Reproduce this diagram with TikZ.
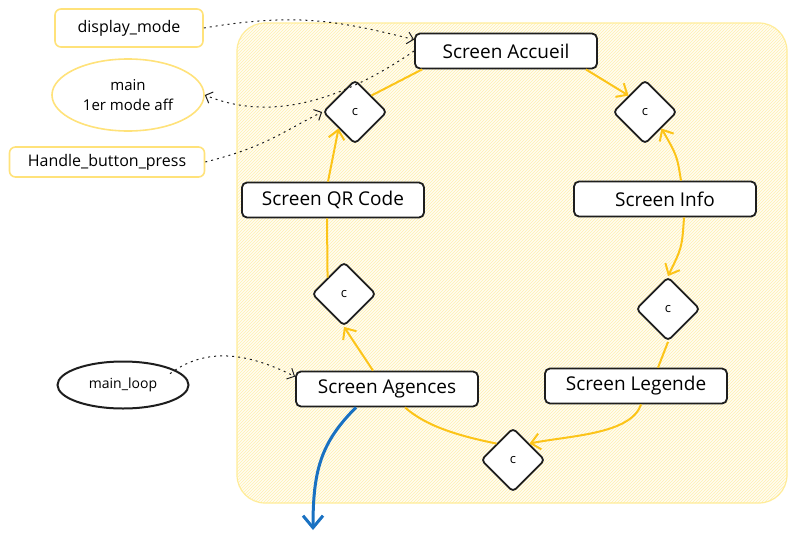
\documentclass[tikz,border=0pt]{standalone}
\usepackage{fontspec}
\setmainfont{Open Sans}
\usepackage{tikz}
\usetikzlibrary{arrows,arrows.meta,shapes.geometric,patterns}
\definecolor{ink}{HTML}{1E1E1E}
\definecolor{flowc}{HTML}{FCC419}
\definecolor{panelline}{HTML}{FFEC99}
\definecolor{panelfill}{HTML}{FFFDF2}
\definecolor{hatchc}{HTML}{FFF0B0}
\definecolor{labline}{HTML}{FFE27A}
\definecolor{outc}{HTML}{1971C2}

\begin{document}
\begin{tikzpicture}[x=1pt, y=-1pt,
    screen/.style={draw=ink, fill=white, line width=1.8pt, rounded corners=5pt,
      minimum width=182pt, minimum height=35pt, font=\fontsize{19}{21}\selectfont},
    cond/.style={diamond, draw=ink, fill=white, line width=1.8pt, rounded corners=4pt,
      minimum width=64pt, minimum height=64pt, inner sep=0pt, font=\fontsize{13}{15}\selectfont},
    func/.style={draw=labline, fill=white, line width=1.6pt, rounded corners=6pt,
      minimum height=34pt, font=\fontsize{16}{18}\selectfont},
    funcell/.style={ellipse, draw=labline, fill=white, line width=1.6pt, align=center,
      minimum width=152pt, minimum height=72pt, inner sep=0pt, font=\fontsize{15}{20}\selectfont},
    loopell/.style={ellipse, draw=ink, fill=white, line width=2pt,
      minimum width=131pt, minimum height=47pt, inner sep=0pt, font=\fontsize{14}{16}\selectfont},
    panel/.style={draw=panelline, line width=1.2pt, rounded corners=28pt,
      preaction={fill=panelfill}, pattern=north east lines, pattern color=hatchc},
    flow/.style={draw=flowc, line width=2pt, >={Straight Barb[length=9pt,width=16pt]}},
    dot/.style={draw=ink, line width=1pt, dash pattern=on 2pt off 4pt,
      >={Straight Barb[length=6pt,width=12pt]}},
    outarrow/.style={draw=outc, line width=3pt, >={Straight Barb[length=12pt,width=20pt]}}]
  \useasboundingbox (0,0) rectangle (797,538);
  \draw[panel] (237,23) rectangle (787,503);
  % screens
  \node[screen] (Acc) at (506,51) {Screen Accueil};
  \node[screen] (QR) at (333,200) {Screen QR Code};
  \node[screen] (Info) at (665,199) {Screen Info};
  \node[screen] (Ag) at (387,389) {Screen Agences};
  \node[screen] (Leg) at (636,386) {Screen Legende};
  % choices
  \node[cond] (CTL) at (355,112) {c};
  \node[cond] (CTR) at (645,112) {c};
  \node[cond] (CML) at (344,294) {c};
  \node[cond] (CMR) at (668,309) {c};
  \node[cond] (CB) at (513,460) {c};
  % functions
  \node[func, minimum width=148pt, minimum height=38pt] (DM) at (129,28) {display\_mode};
  \node[funcell] (MA) at (128,95) {main\\1er mode aff};
  \node[func, minimum width=195pt, minimum height=30pt] (HB) at (107,162) {Handle\_button\_press};
  \node[loopell] (ML) at (123,385) {main\_loop};
  \coordinate (out) at (313,530);
  % cycle
  \draw[flow, ->] ([xshift=-12pt]Acc.south east) -- (CTR.north west);
  \draw[flow, ->] ([xshift=16pt]Info.north) .. controls +(-4,-25) .. (CTR.south east);
  \draw[flow, ->] ([xshift=19pt]Info.south) .. controls +(-2,30) .. (CMR.north);
  \draw[flow] (CMR.south) -- ([xshift=22pt]Leg.north);
  \draw[flow, ->] ([xshift=5pt]Leg.south) .. controls +(-10,30) and +(40,-8) .. (CB.north east);
  \draw[flow] ([xshift=18pt]Ag.south) .. controls +(20,18) and +(-40,-8) .. (CB.north west);
  \draw[flow, ->] ([xshift=-14pt]Ag.north) -- (CML.south);
  \draw[flow] (CML.north west) -- ([xshift=-6pt]QR.south);
  \draw[flow, ->] ([xshift=-5pt]QR.north) -- (CTL.south west);
  \draw[flow] (CTL.north east) -- ([xshift=8pt]Acc.south west);
  \draw[outarrow, ->] ([xshift=-31pt]Ag.south) .. controls +(-35,35) and +(0,-60) .. (out);
  % calls
  \draw[dot, ->] (DM.east) .. controls +(90,-15) and +(-80,-20) .. ([yshift=-7pt]Acc.north west);
  \draw[dot, ->] (Acc.west) .. controls +(-80,55) and +(60,25) .. (MA.east);
  \draw[dot, ->] (HB.east) .. controls +(60,-15) and +(-40,20) .. (CTL.west);
  \draw[dot, ->] ([yshift=-6pt]ML.north east) .. controls +(40,-30) and +(-40,-20) .. ([yshift=-6pt]Ag.north west);
\end{tikzpicture}
\end{document}
